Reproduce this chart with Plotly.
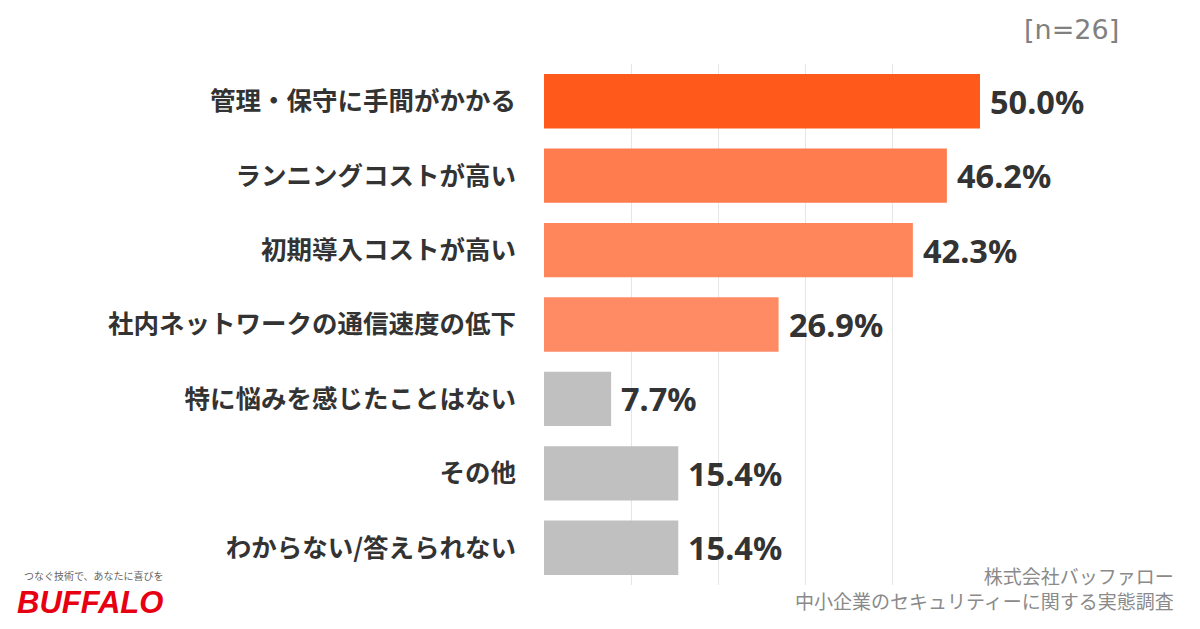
import plotly.graph_objects as go

categories = [
    "管理・保守に手間がかかる",
    "ランニングコストが高い",
    "初期導入コストが高い",
    "社内ネットワークの通信速度の低下",
    "特に悩みを感じたことはない",
    "その他",
    "わからない/答えられない",
]
values = [50.0, 46.2, 42.3, 26.9, 7.7, 15.4, 15.4]
bar_colors = ["#FF5A1C", "#FF7C4E", "#FF855A", "#FF8B64", "#C0C0C0", "#C0C0C0", "#C0C0C0"]
value_labels = ["50.0%", "46.2%", "42.3%", "26.9%", "7.7%", "15.4%", "15.4%"]
x_ticks = [0, 10, 20, 30, 40, 50]

W, H = 1200, 629
ml, mr, mt, mb = 544, 220, 64, 44
pw, ph = W - ml - mr, H - mt - mb

fig = go.Figure()
fig.add_trace(go.Bar(
    x=values, y=categories, orientation="h",
    marker=dict(color=bar_colors, line=dict(width=0)),
    width=0.73, hoverinfo="skip",
))

for c, v, t in zip(categories, values, value_labels):
    fig.add_annotation(
        x=v, y=c, xref="x", yref="y", text=t, showarrow=False,
        xanchor="left", yanchor="middle", xshift=8,
        font=dict(family="Noto Sans", size=32.5, color="#333333", weight="bold"),
    )


def px2paper(px, py):
    return (px - ml) / pw, 1 - (py - mt) / ph


paper_ann = [
    dict(text="[n=26]", pos=(1121, 30), xanchor="right", yanchor="middle",
         font=dict(family="DejaVu Sans", size=27, color="#808080")),
    dict(text="株式会社バッファロー<br>中小企業のセキュリティーに関する実態調査", pos=(1176, 588),
         xanchor="right", yanchor="middle", align="right",
         font=dict(family="Noto Sans CJK JP", size=19, color="#8a8a8a")),
    dict(text="つなぐ技術で、あなたに喜びを", pos=(22, 575), xanchor="left", yanchor="middle",
         font=dict(family="Noto Sans CJK JP", size=10, color="#666666")),
    dict(text="<b><i>BUFFALO</i></b>", pos=(15, 602), xanchor="left", yanchor="middle",
         font=dict(family="Liberation Sans", size=31, color="#E60012")),
]
for a in paper_ann:
    x, y = px2paper(*a.pop("pos"))
    fig.add_annotation(xref="paper", yref="paper", x=x, y=y, showarrow=False, **a)

fig.update_layout(
    width=W, height=H,
    margin=dict(l=ml, r=mr, t=mt, b=mb),
    paper_bgcolor="white", plot_bgcolor="white",
    showlegend=False,
    xaxis=dict(range=[0, 50], tickvals=x_ticks, showticklabels=False,
               showgrid=True, gridcolor="#E6E6E6", gridwidth=1, zeroline=False,
               showline=False, fixedrange=True),
    yaxis=dict(autorange="reversed", showgrid=False, showline=False, ticks="",
               ticklabelstandoff=27,
               tickfont=dict(family="Noto Sans CJK JP", size=25.5, color="#333333", weight="bold")),
)

fig.write_html("out.html")
